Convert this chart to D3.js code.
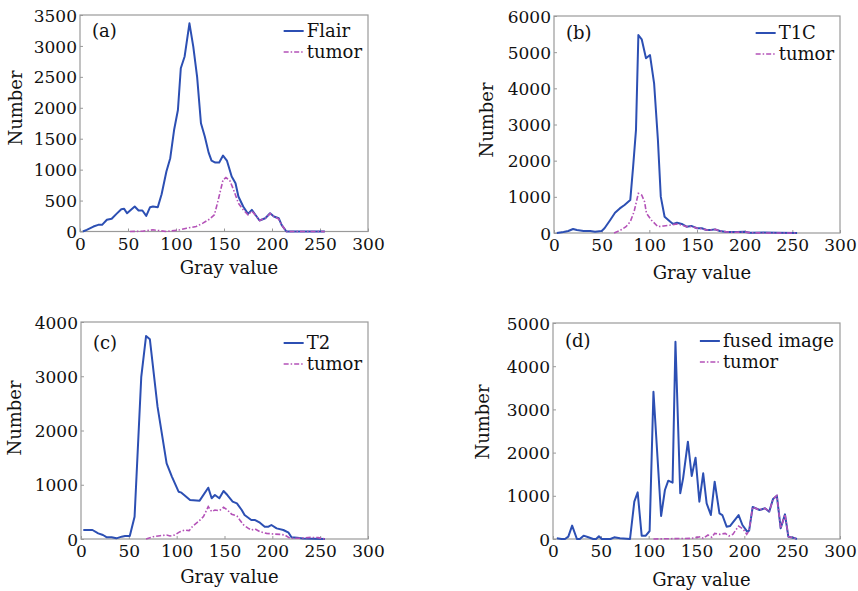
<!DOCTYPE html>
<html>
<head>
<meta charset="utf-8">
<script src="https://cdn.jsdelivr.net/npm/d3@7"></script>
<style>
  body { margin: 0; background: #fff; }
  text { font-family: "DejaVu Serif", serif; fill: #111; }
</style>
</head>
<body>
<div id="app"></div>
<script>
// gray value / pixel count pairs
const flair = [[3,0],[7,27],[14,80],[19,108],[23,108],[28,190],[33,205],[38,285],[43,360],[46,366],[49,296],[57,404],[61,340],[65,340],[69,253],[73,393],[76,404],[81,393],[85,603],[90,970],[94,1185],[98,1640],[102,1965],[105,2640],[109,2830],[114,3365],[118,2990],[122,2500],[126,1750],[130,1535],[134,1275],[137,1147],[141,1115],[145,1115],[149,1228],[153,1147],[158,890],[162,780],[165,565],[170,404],[175,285],[179,350],[184,242],[187,178],[193,215],[198,296],[202,242],[207,215],[210,108],[215,0],[255,0]];
const tumorA = [[52,0],[65,5],[76,27],[90,0],[104,27],[111,54],[121,80],[128,135],[135,200],[140,270],[144,510],[149,835],[152,872],[156,824],[160,673],[165,458],[170,350],[175,270],[179,330],[184,242],[187,178],[193,215],[198,290],[202,242],[207,200],[210,108],[215,0],[255,0]];

const t1c = [[3,0],[10,28],[15,55],[20,110],[24,83],[31,55],[38,55],[43,37],[50,55],[53,130],[59,360],[64,560],[69,680],[74,775],[80,910],[83,1835],[86,2850],[88.5,5475],[92,5355],[96.5,4830],[100.7,4920],[105,4140],[109,2570],[112,1005],[116,450],[122,313],[125,250],[129,285],[134,250],[139,175],[144,195],[150,130],[155,130],[160,83],[164,83],[169,100],[174,55],[181,28],[192,28],[199,37],[206,10],[220,15],[235,5],[255,0]];
const tumorB = [[63,0],[69,65],[75.5,175],[80,313],[84,590],[88.5,1095],[92,1050],[95,866],[97,545],[102,360],[109,175],[115,195],[122,220],[129,250],[134,220],[139,175],[144,180],[150,130],[155,120],[160,83],[164,80],[169,100],[174,55],[181,30],[190,20],[199,30],[206,10],[220,0],[255,0]];

const t2 = [[2.4,166],[12,166],[18,104],[23,74],[27,31],[32,31],[37,12],[42.5,43],[46,55],[51,55],[56,410],[63,2990],[68,3740],[72,3680],[80,2440],[89.5,1395],[95,1150],[102,872],[105,854],[114,720],[124,707],[133,946],[136.6,750],[140,811],[144.6,750],[149,885],[153,811],[158.5,690],[163,657],[168,535],[171,442],[178,350],[182,350],[187,300],[192,227],[196,227],[199,258],[204.5,196],[211.5,166],[217,117],[220,31],[226,25],[232,10],[255,0]];
const tumorC = [[68,0],[75.6,43],[82.6,61],[89.5,74],[93,55],[98,74],[103.5,135],[108.7,166],[113,154],[117,240],[122.6,320],[128,412],[133,596],[136.6,504],[140,535],[144.6,522],[149,584],[153,535],[157.5,455],[163,424],[166,350],[170,258],[175,196],[178,166],[182,184],[187,135],[194,104],[201,92],[208,86],[213,74],[218.5,12],[228,15],[240,30],[248,25],[255,0]];

const fused = [[4,15],[9,0],[12.5,0],[16,54],[20,310],[25,0],[28,0],[32,77],[37,39],[42,0],[45,0],[48,62],[51,0],[60,0],[64,39],[70,15],[80.5,0],[85,864],[88.5,1080],[92.7,77],[97,77],[101,185],[105,3410],[113,532],[117,1134],[120.5,1350],[125,1304],[128,4568],[133,1057],[136,1404],[141,2253],[145,1458],[149,1883],[153,864],[157,1520],[160.6,826],[165,555],[169,1327],[174,594],[177,555],[181.5,285],[185,300],[194,555],[198,324],[203,170],[205,193],[208.7,740],[216,671],[221.6,710],[226,632],[230,925],[234,1003],[238,247],[242.5,571],[246,54],[251,31],[255,0]];
const tumorD = [[105,0],[126,8],[145,15],[154,54],[157,15],[162,93],[166,39],[169,131],[174.5,108],[180,131],[184,70],[188,108],[194,300],[199,224],[202.5,108],[205,193],[208.7,740],[216,671],[221.6,710],[226,632],[230,925],[234,1003],[238,247],[242.5,571],[246,54],[251,31],[255,0]];

const xTicks = [0, 50, 100, 150, 200, 250, 300];
const panelTags = ["(a)", "(b)", "(c)", "(d)"];
const mainNames = ["Flair", "T1C", "T2", "fused image"];
const yMaxes = [3500, 6000, 4000, 5000];
const yTicksA = d3.range(0, 3501, 500);
const yTicksB = d3.range(0, 6001, 1000);
const yTicksC = d3.range(0, 4001, 1000);
const yTicksD = d3.range(0, 5001, 1000);

const BLUE = "#2c4fb3", PURPLE = "#b452b8", FRAME = "#9a9a9a";

const panels = [
  {main: flair, tumor: tumorA, yTicks: yTicksA, box: [80, 368, 15, 231.5], yLab: 108, xLab: 36.5, nx: 64, leg: 16},
  {main: t1c, tumor: tumorB, yTicks: yTicksB, box: [554, 840, 16, 233], yLab: 120, xLab: 40, nx: 67, leg: 17},
  {main: t2, tumor: tumorC, yTicks: yTicksC, box: [81, 368, 322, 539], yLab: 418, xLab: 38, nx: 66, leg: 21},
  {main: fused, tumor: tumorD, yTicks: yTicksD, box: [553, 840, 323, 539], yLab: 422, xLab: 41, nx: 70, leg: 18}
];

const svg = d3.select("#app").append("svg")
  .attr("width", 858)
  .attr("height", 591);

panels.forEach((p, i) => {
  const [l, r, t, b] = p.box;
  const x = d3.scaleLinear().domain([0, 300]).range([l, r]);
  const y = d3.scaleLinear().domain([0, yMaxes[i]]).range([b, t]);
  const g = svg.append("g");

  // axes: ticks point inward, grey domain
  const xa = g.append("g").attr("transform", `translate(0,${b})`)
    .call(d3.axisBottom(x).tickValues(xTicks).tickFormat(d3.format("d")).tickSize(-3).tickPadding(6));
  const ya = g.append("g").attr("transform", `translate(${l},0)`)
    .call(d3.axisLeft(y).tickValues(p.yTicks).tickFormat(d3.format("d")).tickSize(-3).tickPadding(3));
  [xa, ya].forEach(a => {
    a.select(".domain").remove();
    a.selectAll("line").attr("stroke", FRAME);
    a.selectAll("text").style("font-family", "DejaVu Serif").style("font-size", "17px").attr("fill", "#111");
  });
  ya.selectAll("text").attr("dy", "0.36em");

  g.append("rect")
    .attr("x", l).attr("y", t)
    .attr("width", r - l).attr("height", b - t)
    .attr("fill", "none").attr("stroke", FRAME).attr("stroke-width", 1.2);

  const line = d3.line().x(d => x(d[0])).y(d => y(d[1]));
  g.append("path").datum(p.main)
    .attr("d", line).attr("fill", "none")
    .attr("stroke", BLUE).attr("stroke-width", 2).attr("stroke-linejoin", "round");
  g.append("path").datum(p.tumor)
    .attr("d", line).attr("fill", "none")
    .attr("stroke", PURPLE).attr("stroke-width", 1.6)
    .attr("stroke-dasharray", "5,2,1.5,2");

  // labels
  g.append("text").attr("x", (l + r) / 2 + 5).attr("y", b + p.xLab)
    .attr("dy", "0.35em").attr("text-anchor", "middle")
    .style("font-size", "18px").text("Gray value");
  g.append("text")
    .attr("transform", `translate(${l - p.nx},${p.yLab}) rotate(-90)`)
    .attr("dy", "0.35em").attr("text-anchor", "middle")
    .style("font-size", "18px").text("Number");
  g.append("text").attr("x", l + 12).attr("y", t + p.leg)
    .attr("dy", "0.35em").style("font-size", "18px").text(panelTags[i]);

  // legend, right aligned inside the box
  const leg = g.append("g");
  const names = [mainNames[i], "tumor"];
  const labels = names.map((n, k) => leg.append("text")
    .attr("y", t + p.leg + k * 21).attr("dy", "0.35em")
    .style("font-size", "18px").text(n));
  const w = d3.max(labels, s => s.node().getComputedTextLength());
  const tx = r - 6 - w;
  labels.forEach(s => s.attr("x", tx));
  names.forEach((n, k) => {
    leg.append("line")
      .attr("x1", tx - 23).attr("x2", tx - 3)
      .attr("y1", t + p.leg + k * 21).attr("y2", t + p.leg + k * 21)
      .attr("stroke", k ? PURPLE : BLUE)
      .attr("stroke-width", k ? 1.6 : 2)
      .attr("stroke-dasharray", k ? "5,2,1.5,2" : null);
  });
});
</script>
</body>
</html>
